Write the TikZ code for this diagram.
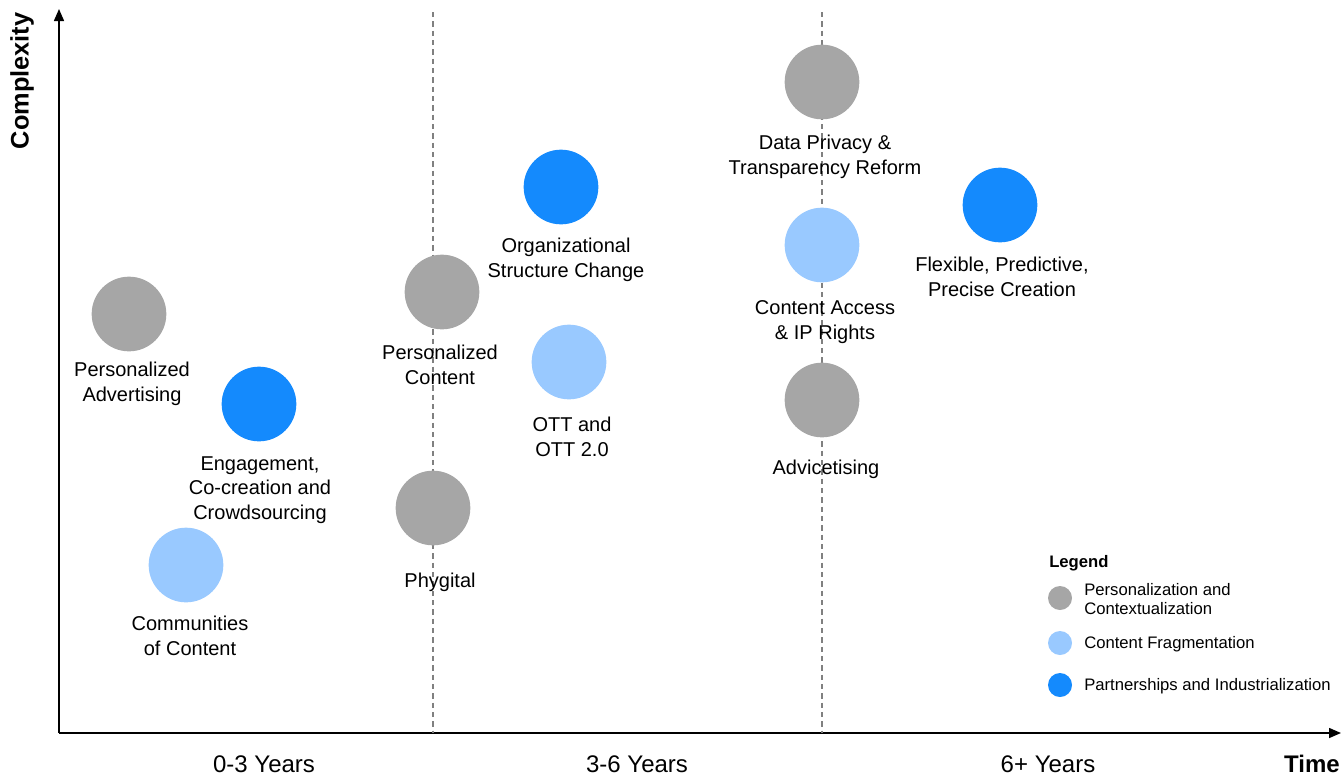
\documentclass[tikz,border=0pt]{standalone}
\usepackage{fontspec}
\setmainfont{Liberation Sans}
\usepackage{xcolor}
\usetikzlibrary{arrows.meta}

\definecolor{pcgray}{HTML}{A6A6A6}
\definecolor{cflight}{HTML}{99C9FF}
\definecolor{piblue}{HTML}{148AFD}

\begin{document}
\begin{tikzpicture}[x=0.75pt,y=0.75pt,yscale=-1,xscale=1,
  dot/.style={circle,inner sep=0pt,minimum size=56pt},
  keydot/.style={circle,inner sep=0pt,minimum size=18pt},
  lbl/.style={align=center,inner sep=0.75pt,font=\fontsize{15}{18.4}\selectfont},
  keytxt/.style={anchor=west,align=left,inner sep=0.75pt,font=\fontsize{12.5}{14.3}\selectfont},
  yrs/.style={inner sep=0.75pt,font=\fontsize{18}{21}\selectfont},
  axis/.style={line width=1.1pt,-{Triangle[length=9pt,width=7.5pt]}},
  divider/.style={gray,dashed,line width=0.8pt,dash pattern=on 4pt off 3pt}]
\useasboundingbox (0,0) rectangle (1343,775);

% axes
\coordinate (origin) at (59,733);
\coordinate (ytop) at (59,9);
\coordinate (xend) at (1341,733);
\draw[axis] (origin) -- (ytop);
\draw[axis] (origin) -- (xend);
\draw (22,81) node [rotate=90,inner sep=0.75pt,font=\bfseries\fontsize{19}{22}\selectfont] (ylab) {Complexity};
\draw (1312,764) node [inner sep=0.75pt,font=\bfseries\fontsize{18}{21}\selectfont] (xlab) {Time};

% period dividers
\coordinate (d1top) at (433,12);
\coordinate (d1bot) at (433,733);
\coordinate (d2top) at (822,12);
\coordinate (d2bot) at (822,733);
\draw[divider] (d1top) -- (d1bot);
\draw[divider] (d2top) -- (d2bot);

\draw (264,764) node [yrs] (p1) {0-3 Years};
\draw (637,764) node [yrs] (p2) {3-6 Years};
\draw (1048,764) node [yrs] (p3) {6+ Years};

% 0-3 years
\draw (129,314) node [dot,fill=pcgray] (padv) {};
\draw (132,384) node [lbl] (padvt) {Personalized\\Advertising};
\draw (259,404) node [dot,fill=piblue] (eng) {};
\draw (260,490) node [lbl] (engt) {Engagement,\\Co-creation and\\Crowdsourcing};
\draw (186,565) node [dot,fill=cflight] (com) {};
\draw (190,636) node [lbl] (comt) {Communities\\of Content};

% 3-6 years
\draw (442,292) node [dot,fill=pcgray] (pcon) {};
\draw (440,365) node [lbl] (pcont) {Personalized\\Content};
\draw (433,508) node [dot,fill=pcgray] (phy) {};
\draw (440,582) node [lbl] (phyt) {Phygital};
\draw (561,187) node [dot,fill=piblue] (org) {};
\draw (566,260) node [lbl] (orgt) {Organizational\\Structure Change};
\draw (569,362) node [dot,fill=cflight] (ott) {};
\draw (572,437) node [lbl] (ottt) {OTT and\\OTT 2.0};

% 6+ years
\draw (822,82) node [dot,fill=pcgray] (dpr) {};
\draw (825,157) node [lbl] (dprt) {Data Privacy \&\\Transparency Reform};
\draw (822,245) node [dot,fill=cflight] (cac) {};
\draw (825,322) node [lbl] (cact) {Content Access\\\& IP Rights};
\draw (822,400) node [dot,fill=pcgray] (adv) {};
\draw (826,469) node [lbl] (advt) {Advicetising};
\draw (1000,205) node [dot,fill=piblue] (flx) {};
\draw (1002,277) node [lbl] (flxt) {Flexible, Predictive,\\Precise Creation};

% legend
\draw (1048,563) node [anchor=west,inner sep=0.75pt,font=\bfseries\fontsize{12.5}{14.3}\selectfont] (leg) {Legend};
\draw (1060,598) node [keydot,fill=pcgray] (k1) {};
\draw (1083,599) node [keytxt] (k1t) {Personalization and\\Contextualization};
\draw (1060,643) node [keydot,fill=cflight] (k2) {};
\draw (1083,644) node [keytxt] (k2t) {Content Fragmentation};
\draw (1060,685) node [keydot,fill=piblue] (k3) {};
\draw (1083,686) node [keytxt] (k3t) {Partnerships and Industrialization};
\end{tikzpicture}
\end{document}
